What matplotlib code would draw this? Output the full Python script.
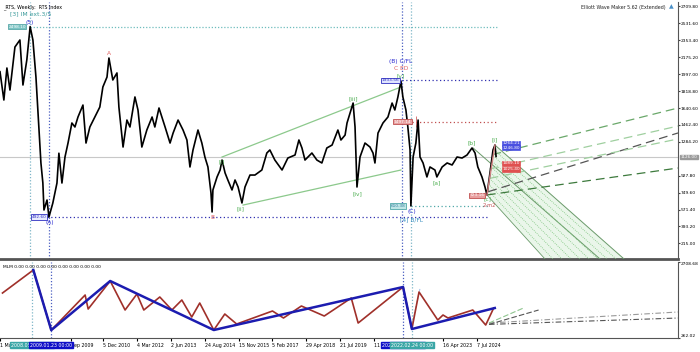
import matplotlib
matplotlib.use("Agg")
import matplotlib.pyplot as plt
import numpy as np

# ---------------- data (time in decimal years) ----------------
price_t = [2007.29, 2007.43, 2007.54, 2007.65, 2007.83, 2008.01, 2008.12, 2008.26, 2008.38, 2008.48,
           2008.59, 2008.66, 2008.77, 2008.84, 2008.88, 2008.99, 2009.06, 2009.20, 2009.35, 2009.42,
           2009.53, 2009.64, 2009.75, 2009.89, 2010.00, 2010.11, 2010.29, 2010.40, 2010.54, 2010.72,
           2010.90, 2011.01, 2011.16, 2011.23, 2011.37, 2011.52, 2011.59, 2011.74, 2011.88, 2011.99,
           2012.17, 2012.28, 2012.42, 2012.60, 2012.79, 2012.89, 2013.04, 2013.26, 2013.44, 2013.55,
           2013.73, 2013.91, 2014.05, 2014.16, 2014.27, 2014.45, 2014.59, 2014.70, 2014.81, 2014.92,
           2014.96, 2014.99, 2015.14, 2015.25, 2015.32, 2015.43, 2015.53, 2015.68, 2015.79, 2015.90,
           2016.04, 2016.15, 2016.33, 2016.51, 2016.76, 2016.94, 2017.05, 2017.23, 2017.49, 2017.70,
           2017.96, 2018.10, 2018.21, 2018.32, 2018.57, 2018.75, 2018.93, 2019.11, 2019.30, 2019.51,
           2019.62, 2019.77, 2019.84, 2020.06, 2020.13, 2020.20, 2020.31, 2020.49, 2020.67, 2020.78,
           2020.85, 2020.96, 2021.14, 2021.32, 2021.47, 2021.57, 2021.68, 2021.79, 2021.86, 2021.97,
           2022.04, 2022.12, 2022.15, 2022.23, 2022.33, 2022.41, 2022.48, 2022.59, 2022.73, 2022.84,
           2023.02, 2023.09, 2023.28, 2023.46, 2023.64, 2023.82, 2024.00, 2024.18, 2024.36, 2024.47,
           2024.57, 2024.72, 2024.83, 2024.90, 2025.01, 2025.12, 2025.19, 2025.23]
price_v = [2023, 1725, 2062, 1830, 2283, 2357, 1883, 2147, 2498, 2357,
           1967, 1620, 1062, 852, 567, 672, 493, 640, 851, 1165,
           851, 1125, 1272, 1483, 1441, 1546, 1672, 1272, 1441, 1546,
           1651, 1862, 1967, 2167, 1936, 2010, 1651, 1230, 1514, 1441,
           1757, 1620, 1230, 1409, 1546, 1441, 1641, 1441, 1272, 1377,
           1514, 1409, 1304, 1020, 1199, 1409, 1272, 1125, 1020, 746,
           546, 778, 915, 988, 1093, 957, 883, 778, 883, 809,
           641, 809, 935, 935, 988, 1167, 1199, 1093, 988, 1114,
           1146, 1304, 1220, 1093, 1167, 1093, 1062, 1220, 1251, 1409,
           1304, 1356, 1483, 1693, 1441, 809, 1125, 1272, 1230, 1167,
           1062, 1377, 1483, 1546, 1693, 1620, 1757, 1925, 1757, 1620,
           1441, 1199, 610, 1125, 1272, 1514, 1125, 1062, 915, 1020,
           988, 915, 1020, 1062, 1041, 1125, 1114, 1146, 1220, 1167,
           1020, 915, 809, 725, 957, 1199, 1251, 1130]
current_price = 1126.0

# MLM indicator zigzags (lower panel)
mlm_red_t = [2007.29, 2008.41, 2009.06, 2010.29, 2010.40, 2011.20, 2011.74, 2012.17, 2012.42, 2013.00,
             2013.44, 2013.80, 2014.16, 2014.45, 2014.96, 2015.36, 2015.79, 2017.09, 2017.49, 2018.14,
             2018.97, 2019.95, 2020.20, 2021.83, 2022.15, 2022.41, 2023.09, 2023.28, 2023.46, 2024.36,
             2024.83, 2025.12]
mlm_red_v = [1710, 2451, 516, 1646, 1195, 2097, 1163, 1678, 1163, 1582,
             1163, 1485, 938, 1388, 519, 1034, 712, 1131, 906, 1292,
             970, 1549, 744, 1904, 551, 1743, 841, 1002, 906, 1163,
             680, 1227]
mlm_blue_t = [2008.41, 2009.06, 2011.20, 2014.96, 2021.83, 2022.15, 2025.16]
mlm_blue_v = [2451, 516, 2097, 519, 1904, 551, 1227]

# wave labels: text, time, price, colour, vertical offset (pt)
wave_labels = [("(5)", 2008.38, 2498, "#2b2bd0", 3), ("(A)", 2009.10, 493, "#2b2bd0", -4),
               ("A", 2011.23, 2167, "#e06060", 3), ("B", 2014.96, 546, "#e06060", -4),
               ("[i]", 2015.32, 1093, "#4caf50", -1), ("[ii]", 2016.00, 641, "#4caf50", -4),
               ("[iii]", 2020.06, 1693, "#4caf50", 3), ("[iv]", 2020.20, 809, "#4caf50", -5),
               ("[v]", 2021.79, 1925, "#4caf50", 4), ("C ED", 2021.79, 1925, "#e06060", 9),
               ("(B) C/FL", 2021.79, 1925, "#2b2bd0", 14), ("(C)", 2022.17, 610, "#2b2bd0", -4),
               ("[4] B/FL", 2022.17, 610, "#3a8fc0", -10), ("[a]", 2023.09, 915, "#4caf50", -4),
               ("[b]", 2024.36, 1220, "#4caf50", 4), ("[c]", 2024.92, 725, "#4caf50", -3),
               ("[i]", 2025.17, 1251, "#4caf50", 4)]

# projection fan (top panel): start time, start price, end price at right edge
fan_start_t = [2025.10, 2025.00, 2024.95, 2025.00, 2024.90]
fan_start_v = [1150, 1000, 760, 900, 725]
fan_end_v = [1641, 1451, 1378, 1315, 1009]
fan_color = ["#6aa86a", "#9fcf9f", "#555555", "#9fcf9f", "#3d7a3d"]

# price-level boxes: text, time (right edge of box), price, face, edge, text colour
level_boxes = [("2498.10", 2008.22, 2498, "#7cc4c4", "#5aa8a8", "white"),
               ("492.60", 2008.98, 493, "#e8ecff", "#3030c0", "#3030c0"),
               ("1933.56", 2021.72, 1933, "#dfe4ff", "#3030c0", "#3030c0"),
               ("1497.14", 2022.18, 1497, "#e8a0a0", "#c05050", "white"),
               ("610.38", 2021.95, 610, "#bfe6e6", "#50a8a8", "#3a7f9f"),
               ("723.16", 2024.80, 723, "#e8a0a0", "#c05050", "white")]

date_ticks = [2007.20, 2009.76, 2010.93, 2012.17, 2013.42, 2014.65, 2015.87, 2017.09, 2018.32, 2019.55,
              2020.78, 2023.29, 2024.51]
date_labels = ["1 Mar 2007", "Sep 2009", "5 Dec 2010", "4 Mar 2012", "2 Jun 2013", "24 Aug 2014",
               "15 Nov 2015", "5 Feb 2017", "29 Apr 2018", "21 Jul 2019", "11 Oct 2020",
               "16 Apr 2023", "7 Jul 2024"]
price_ticks = [2709.80, 2531.60, 2353.40, 2175.20, 1997.00, 1818.80, 1640.60, 1462.40, 1284.20,
               927.80, 749.60, 571.40, 393.20, 215.00]

vlines_t = [2008.37, 2009.06, 2021.82, 2022.15]
vline_col = ["#7fb6c8", "#4a5fc1", "#4a5fc1", "#7fb6c8"]
vline_text = ["2008.05.19 00:00", "2009.01.23 00:00", "2021.10.25 00:00", "2022.02.24 00:00"]
vline_face = ["#3aa6a6", "#1010c8", "#1010c8", "#3aa6a6"]

XMIN, XMAX = 2007.29, 2031.81
FS = 3.4
WF = 4.2
plt.rcParams['font.family'] = ['DejaVu Sans']

fig = plt.figure(figsize=(7.0, 3.52), dpi=100)
ax = fig.add_axes([0.0, 93/352, 678/700, 257/352])
ax2 = fig.add_axes([0.0, 14/352, 678/700, 76/352])

for a in (ax, ax2):
    a.set_xlim(XMIN, XMAX)
    a.set_facecolor("white")
    for s in ("left", "top"):
        a.spines[s].set_visible(False)
    a.spines["right"].set_color("#555555")
    a.spines["bottom"].set_color("#555555")
    a.yaxis.tick_right()
    a.tick_params(axis="y", labelsize=FS - 0.2, length=1.5, pad=0.6, color="#444444")

ax.spines["bottom"].set_linewidth(2.0)
ax.set_ylim(51, 2757)
ax.set_yticks(price_ticks)
ax.set_yticklabels([f"{v:.2f}" for v in price_ticks])
ax.set_xticks([])

# current price line
ax.axhline(current_price, color="#c8c8c8", lw=0.8, zorder=1)

# vertical dotted lines
for t, c in zip(vlines_t, vline_col):
    for a in (ax, ax2):
        a.axvline(t, color=c, lw=0.9, ls=(0, (1, 1.5)), zorder=2)

# horizontal level lines
ax.hlines(2498.1, 2008.37, 2025.25, color="#6fbdbd", lw=0.9, ls=(0, (1, 1.5)))
ax.hlines(492.6, 2009.00, 2024.90, color="#3030b0", lw=0.9, ls=(0, (1, 2)))
ax.hlines(1933.5, 2021.82, 2025.25, color="#3030b0", lw=0.9, ls=(0, (1, 2)))
ax.hlines(1497.1, 2022.18, 2025.25, color="#c05050", lw=0.9, ls=(0, (1, 2)))
ax.hlines(610.4, 2022.15, 2024.95, color="#50a8a8", lw=0.9, ls=(0, (1, 2)))
ax.vlines(2022.33, 1440, 1560, color="#d06060", lw=0.6)

# green wave channel lines
ax.plot([2015.32, 2021.79], [1125, 1862], color="#8cc98c", lw=0.9)
ax.plot([2016.08, 2021.79], [619, 988], color="#8cc98c", lw=0.9)

# downward channel with dotted hatch
ax.fill([2024.90, 2025.19, 2029.86, 2027.00], [725, 1251, 51, 51], color="#eaf6ea", lw=0, zorder=1)
ax.plot([2024.40, 2028.99], [1220, 51], color="#6a9a6a", lw=0.7, zorder=3)
ax.plot([2025.19, 2029.86], [1251, 51], color="#6a9a6a", lw=0.7, zorder=3)
ax.plot([2024.90, 2027.00], [725, 51], color="#6a9a6a", lw=0.6, zorder=3)
for f in np.linspace(0.1, 0.9, 8):
    ax.plot([2024.90 + 0.29 * f, 2027.00 + 2.86 * f], [725 + 526 * f, 51], color="#7cc47c",
            lw=0.6, ls=(0, (1, 1.5)), zorder=3)

# projection fan
for t0, v0, v1, c in zip(fan_start_t, fan_start_v, fan_end_v, fan_color):
    ax.plot([t0, XMAX], [v0, v1], color=c, lw=0.9, ls=(0, (7, 4)), zorder=3)

# price
ax.plot(price_t, price_v, color="black", lw=1.2, zorder=5)
ax.plot([2024.90, 2025.19], [725, 1251], color="#d08080", lw=1.0, zorder=6)

# wave labels
for txt, t, v, c, dy in wave_labels:
    ax.annotate(txt, (t, v), xytext=(0, dy), textcoords="offset points", ha="center",
                va="center", fontsize=WF, color=c, zorder=8)
ax.annotate("2-m2", (2024.98, 610), fontsize=FS + 0.3, color="#c05050", ha="center", va="center", zorder=8)
ax.text(2007.66, 2631, "[3] IM ext.3/5", fontsize=WF + 0.2, color="#3a9a9a", va="center")

for txt, t, v, fc, ec, tc in level_boxes:
    ax.text(t, v, txt, fontsize=FS - 0.3, color=tc, ha="right", va="center", zorder=9,
            bbox=dict(boxstyle="square,pad=0.15", fc=fc, ec=ec, lw=0.6))
for txt, v, fc, tc in [("1264.21", 1270, "#4a50e0", "white"), ("1246.80", 1225, "#4a50e0", "white"),
                       ("1089.10", 1060, "#e05050", "white"), ("1025.40", 995, "#e05050", "white")]:
    ax.text(2025.45, v, txt, fontsize=FS - 0.3, color=tc, ha="left", va="center", zorder=9,
            bbox=dict(boxstyle="square,pad=0.12", fc=fc, ec=fc, lw=0.5))

# titles
fig.text(0.004, 0.988, "_RTS, Weekly:  RTS Index", fontsize=FS, va="top", ha="left")
fig.text(0.951, 0.986, "Elliott Wave Maker 5.62 (Extended)", fontsize=FS, va="top", ha="right", color="#222222")
fig.text(0.956, 0.988, "\u25b2", fontsize=FS + 1, va="top", ha="left", color="#4a90c8")
ax.text(XMAX + 0.1, current_price, f"{current_price:.2f}", fontsize=FS - 0.4, va="center", ha="left",
        color="white", clip_on=False, bbox=dict(boxstyle="square,pad=0.08", fc="#9a9a9a", ec="#9a9a9a"))

# ---- lower panel ----
ax2.set_ylim(262.02, 2708.68)
ax2.set_yticks([2708.68, 262.02])
ax2.set_yticklabels(["2708.68", "262.02"])
for lbl, va in zip(ax2.get_yticklabels(), ["top", "bottom"]):
    lbl.set_va(va)
ax2.plot(mlm_red_t, mlm_red_v, color="#a0302a", lw=1.2, zorder=4)
ax2.plot(mlm_blue_t, mlm_blue_v, color="#1c1cb0", lw=1.8, zorder=5)
ax2.plot([2022.15, 2022.45], [680, 1871], color="#9ab8e8", lw=0.7, ls=(0, (2, 1)))
ax2.plot([2024.95, XMAX], [744, 1099], color="#999999", lw=0.8, ls=(0, (5, 2, 1, 2)))
ax2.plot([2024.95, XMAX], [700, 905], color="#555555", lw=0.8, ls=(0, (5, 2, 1, 2)))
ax2.plot([2024.95, 2026.2], [744, 1227], color="#8fc58f", lw=0.8, ls=(0, (5, 2)))
ax2.plot([2024.95, 2026.75], [700, 1163], color="#555555", lw=0.8, ls=(0, (5, 2)))
ax2.text(2007.32, 2620, "MLM 0.00 0.00 0.00 0.00 0.00 0.00 0.00 0.00", fontsize=FS - 0.2, va="top")

ax2.set_xticks(date_ticks)
ax2.set_xticklabels(date_labels, ha="left")
ax2.tick_params(axis="x", labelsize=FS, length=2, pad=1.5, direction="out")

# vertical line date boxes
for t, txt, fc in zip(vlines_t, vline_text, vline_face):
    ax2.annotate(txt, (t, 262.02), xytext=(0, -5.2), textcoords="offset points", ha="center",
                 va="center", fontsize=FS, color="white", annotation_clip=False, zorder=10,
                 bbox=dict(boxstyle="square,pad=0.15", fc=fc, ec=fc))

fig.savefig("out.png", dpi=100, facecolor="white")
